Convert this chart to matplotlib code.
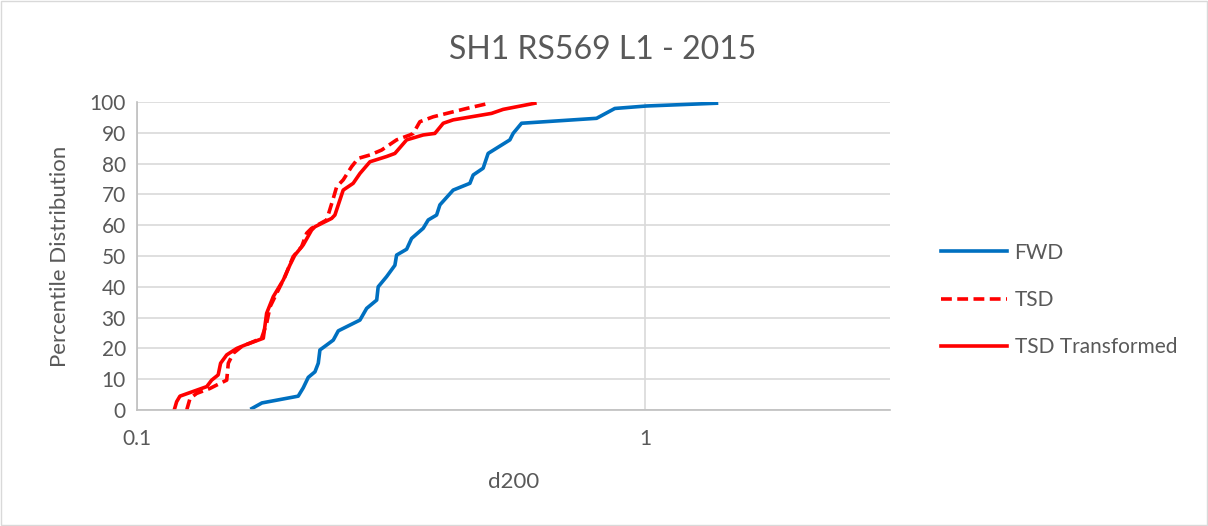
import numpy as np
import matplotlib
matplotlib.use("Agg")
import matplotlib.pyplot as plt
from matplotlib.patches import Rectangle
from matplotlib.ticker import FixedLocator, NullLocator

plt.rcParams['font.family'] = ['Lato', 'DejaVu Sans']

# Values
fwd_d200 = [0.1684, 0.1762, 0.2077, 0.2125, 0.2174, 0.2241, 0.2275, 0.2292, 0.2363,
            0.2435, 0.2491, 0.2748, 0.2833, 0.2965, 0.2985, 0.3101, 0.3220, 0.3245,
            0.3396, 0.3473, 0.3661, 0.3745, 0.3890, 0.3949, 0.4194, 0.4524, 0.4592,
            0.4804, 0.4914, 0.5423, 0.5504, 0.5718, 0.8034, 0.8729, 1.0077, 1.3839]
fwd_pct = [0.5, 2.3, 4.5, 7.2, 10.6, 12.4, 15.2, 19.5, 21.1,
           22.7, 25.7, 29.2, 33.0, 35.7, 40.0, 43.3, 47.0, 50.3,
           52.2, 55.7, 59.0, 61.7, 63.3, 66.6, 71.4, 73.6, 76.3,
           78.5, 83.3, 87.7, 89.8, 93.1, 94.7, 97.9, 98.7, 99.6]

tsd_d200 = [0.1253, 0.1272, 0.1311, 0.1392, 0.1435, 0.1502, 0.1513, 0.1547, 0.1607,
            0.1759, 0.1800, 0.1828, 0.1884, 0.1956, 0.2030, 0.2109, 0.2158, 0.2207,
            0.2363, 0.2435, 0.2473, 0.2547, 0.2646, 0.2727, 0.2876, 0.3032, 0.3245,
            0.3447, 0.3499, 0.3606, 0.3831, 0.4457, 0.4880]
tsd_pct = [0.0, 3.8, 5.4, 7.0, 8.1, 9.7, 15.2, 18.4, 20.6,
           23.3, 28.1, 33.5, 37.9, 43.3, 49.8, 53.0, 57.4, 59.0,
           61.7, 68.7, 72.5, 74.7, 79.0, 81.7, 82.8, 84.4, 87.7,
           89.3, 89.8, 93.6, 95.2, 97.9, 99.4]

tsdt_d200 = [0.1184, 0.1197, 0.1215, 0.1372, 0.1403, 0.1445, 0.1461, 0.1502, 0.1572,
             0.1632, 0.1773, 0.1800, 0.1855, 0.1941, 0.2001, 0.2046, 0.2125, 0.2207,
             0.2241, 0.2417, 0.2453, 0.2547, 0.2665, 0.2748, 0.2876, 0.3101, 0.3220,
             0.3396, 0.3661, 0.3860, 0.4009, 0.4194, 0.4991, 0.5260, 0.6074]
tsdt_pct = [0.0, 2.7, 4.5, 7.6, 9.7, 11.4, 15.2, 17.9, 20.0,
            21.1, 23.3, 31.4, 36.8, 42.2, 47.1, 50.3, 53.6, 58.4,
            59.5, 62.2, 63.3, 71.4, 73.6, 76.8, 80.6, 82.3, 83.3,
            87.7, 89.3, 89.8, 93.1, 94.2, 96.3, 97.6, 99.6]

text_col = "#595959"
grid_col = "#d9d9d9"

fig = plt.figure(figsize=(12.08, 5.26), dpi=100)
fig.patches.append(Rectangle((0.0008, 0.0015), 0.9984, 0.997, transform=fig.transFigure,
                             fill=False, edgecolor="#d9d9d9", linewidth=1))
ax = fig.add_axes([0.1134, 0.2205, 0.6234, 0.5856])

ax.plot(fwd_d200, fwd_pct, color="#0070C0", lw=2.6, label="FWD")
ax.plot(tsd_d200, tsd_pct, color="#FF0000", lw=2.6, ls=(0, (3, 1.5)), label="TSD")
ax.plot(tsdt_d200, tsdt_pct, color="#FF0000", lw=2.6, label="TSD Transformed")

ax.set_xscale("log")
ax.set_xlim(0.1, 3.04)
ax.set_ylim(0, 100)
ax.xaxis.set_major_locator(FixedLocator([0.1, 1]))
ax.xaxis.set_minor_locator(NullLocator())
ax.set_xticklabels(["0.1", "1"])
ax.set_yticks(range(0, 101, 10))

ax.grid(True, which="major", color=grid_col, lw=1.2)
ax.set_axisbelow(True)
for s in ["top", "right"]:
    ax.spines[s].set_visible(False)
for s in ["left", "bottom"]:
    ax.spines[s].set_color("#bfbfbf")
    ax.spines[s].set_linewidth(1.2)
ax.tick_params(axis="both", length=0, labelsize=15, colors=text_col)
ax.tick_params(axis="x", pad=14)
ax.tick_params(axis="y", pad=8)

ax.set_xlabel("d200", fontsize=16, color=text_col, labelpad=16)
ax.set_ylabel("Percentile Distribution", fontsize=16, color=text_col, labelpad=14)
fig.text(0.499, 0.905, "SH1 RS569 L1 - 2015", ha="center", va="center",
         fontsize=23, color=text_col)

fig.legend(loc="center left", bbox_to_anchor=(0.770, 0.43), frameon=False,
           fontsize=15, labelspacing=1.3, handlelength=3.2, handletextpad=0.35,
           borderpad=0, labelcolor=text_col)

fig.savefig("out.png", dpi=100)
